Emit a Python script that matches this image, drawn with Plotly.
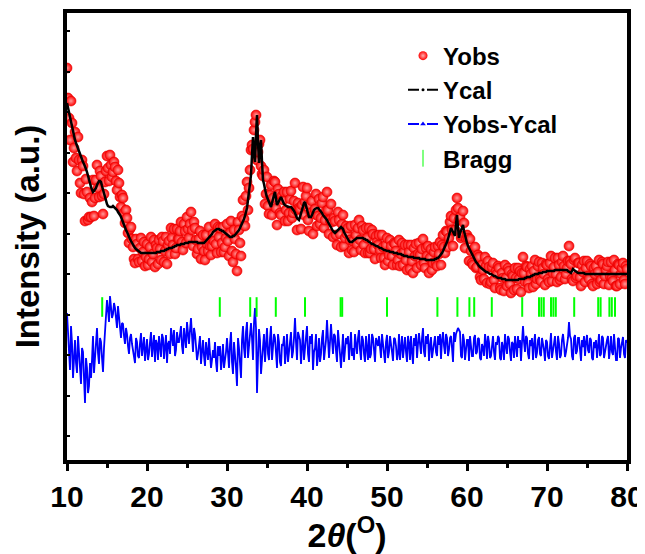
import numpy as np
import plotly.graph_objects as go

# 2-theta scan grid (degrees), 0.125 deg step
two_theta_start = 10.0
two_theta_step = 0.125
n_points = 561
two_theta = np.round(two_theta_start + two_theta_step * np.arange(n_points), 3)

# calculated profile (a.u.), one row per degree (10..79) + last point at 80
ycal = [
    357, 352, 347, 342, 337, 332, 328, 324,
    320, 317, 314, 311, 308, 305, 303, 300,
    298, 296, 294, 291, 288, 285, 281, 277,
    273, 270, 268, 269, 270, 272, 275, 277,
    279, 279, 278, 274, 270, 266, 262, 259,
    256, 254, 253, 253, 253, 253, 254, 253,
    253, 251, 250, 248, 247, 245, 243, 240,
    238, 235, 233, 230, 228, 225, 223, 221,
    219, 217, 215, 213, 212, 211, 210, 209,
    208, 207, 207, 207, 207, 207, 207, 207,
    207, 207, 207, 207, 207, 207, 207, 207,
    207, 207, 208, 208, 208, 208, 209, 209,
    209, 209, 210, 210, 211, 211, 212, 212,
    212, 212, 213, 213, 214, 214, 215, 215,
    215, 215, 216, 216, 216, 216, 217, 217,
    217, 217, 218, 218, 218, 218, 218, 218,
    218, 218, 218, 217, 217, 217, 217, 217,
    217, 217, 218, 219, 220, 221, 223, 224,
    225, 226, 228, 229, 230, 230, 231, 231,
    231, 230, 230, 229, 229, 228, 227, 226,
    226, 225, 224, 223, 223, 223, 224, 224,
    225, 226, 227, 228, 230, 232, 234, 236,
    238, 241, 244, 248, 252, 260, 270, 278,
    285, 305, 323, 305, 298, 325, 345, 318,
    297, 312, 320, 298, 280, 276, 270, 266,
    263, 260, 258, 255, 253, 257, 262, 265,
    268, 262, 255, 257, 260, 261, 263, 260,
    258, 256, 255, 254, 254, 253, 253, 253,
    253, 252, 251, 249, 247, 244, 242, 241,
    240, 243, 247, 251, 255, 257, 258, 254,
    250, 246, 243, 243, 243, 245, 248, 250,
    251, 252, 252, 252, 251, 250, 248, 247,
    245, 244, 242, 241, 240, 238, 236, 234,
    232, 230, 229, 228, 227, 228, 229, 230,
    232, 232, 233, 232, 231, 228, 226, 224,
    222, 220, 219, 218, 218, 218, 219, 220,
    221, 221, 222, 222, 222, 222, 222, 222,
    222, 221, 221, 220, 220, 219, 218, 217,
    217, 216, 216, 215, 215, 214, 214, 213,
    213, 212, 212, 211, 211, 210, 210, 209,
    209, 209, 209, 208, 208, 208, 208, 207,
    207, 207, 207, 206, 206, 206, 206, 205,
    205, 204, 204, 204, 204, 203, 203, 203,
    203, 203, 203, 202, 202, 202, 202, 202,
    202, 201, 201, 201, 201, 201, 201, 200,
    200, 200, 200, 200, 200, 200, 200, 200,
    201, 201, 202, 202, 203, 204, 206, 207,
    209, 211, 213, 215, 218, 221, 224, 228,
    232, 230, 228, 226, 224, 236, 245, 232,
    222, 227, 230, 234, 235, 229, 224, 220,
    217, 214, 212, 209, 207, 205, 203, 201,
    200, 198, 197, 195, 194, 193, 192, 191,
    190, 189, 189, 188, 188, 187, 187, 186,
    186, 185, 185, 184, 184, 183, 183, 182,
    182, 182, 182, 181, 181, 181, 181, 180,
    180, 180, 180, 180, 180, 180, 180, 180,
    180, 180, 180, 180, 181, 181, 181, 181,
    181, 181, 182, 182, 183, 183, 183, 183,
    184, 184, 185, 185, 186, 186, 186, 186,
    187, 187, 187, 187, 188, 188, 188, 188,
    189, 189, 189, 189, 189, 189, 189, 189,
    190, 190, 190, 190, 190, 190, 190, 190,
    190, 190, 190, 190, 190, 189, 188, 187,
    187, 189, 191, 190, 189, 188, 187, 187,
    187, 187, 187, 187, 187, 187, 186, 186,
    186, 186, 186, 186, 186, 186, 186, 186,
    186, 186, 186, 186, 186, 186, 186, 186,
    186, 186, 186, 186, 186, 186, 186, 186,
    186, 186, 186, 186, 186, 186, 186, 186,
    186, 186, 186, 186, 186, 186, 186, 186,
    186,
]

# observed profile (a.u.), same grid
yobs = [
    392, 362, 342, 320, 359, 337, 298, 312,
    328, 302, 289, 323, 300, 277, 267, 300,
    294, 266, 239, 281, 268, 240, 243, 262,
    243, 258, 280, 244, 262, 280, 295, 272,
    263, 289, 284, 264, 246, 266, 278, 289,
    304, 292, 279, 305, 295, 283, 288, 298,
    293, 279, 270, 290, 277, 263, 253, 265,
    262, 247, 237, 250, 242, 227, 217, 231,
    233, 221, 213, 201, 197, 221, 216, 201,
    198, 212, 222, 199, 208, 218, 194, 203,
    216, 195, 201, 213, 223, 198, 206, 220,
    193, 215, 212, 196, 220, 211, 200, 223,
    219, 198, 209, 223, 196, 215, 219, 206,
    232, 222, 215, 231, 206, 212, 231, 221,
    221, 229, 238, 218, 210, 236, 229, 217,
    243, 231, 222, 236, 248, 230, 214, 238,
    232, 220, 206, 211, 221, 229, 201, 213,
    225, 209, 200, 225, 216, 209, 233, 214,
    205, 214, 226, 219, 236, 216, 207, 233,
    223, 232, 208, 217, 233, 208, 213, 222,
    236, 219, 204, 227, 239, 209, 198, 230,
    221, 206, 189, 238, 230, 217, 204, 244,
    260, 241, 234, 264, 278, 250, 272, 290,
    310, 315, 311, 330, 338, 345, 300, 308,
    316, 320, 294, 286, 284, 290, 256, 266,
    283, 254, 246, 265, 275, 245, 262, 279,
    278, 252, 235, 271, 266, 247, 245, 264,
    260, 268, 239, 250, 268, 239, 247, 261,
    269, 242, 247, 259, 277, 250, 230, 257,
    252, 251, 231, 255, 273, 245, 258, 264,
    272, 240, 229, 255, 247, 259, 226, 246,
    251, 266, 234, 244, 261, 236, 242, 257,
    263, 232, 240, 249, 268, 250, 226, 240,
    256, 238, 223, 242, 239, 225, 215, 248,
    240, 226, 213, 236, 245, 214, 222, 234,
    226, 232, 207, 220, 234, 210, 219, 208,
    235, 225, 216, 232, 240, 220, 210, 234,
    230, 215, 207, 232, 222, 207, 232, 207,
    211, 230, 226, 211, 201, 224, 218, 215,
    225, 210, 202, 225, 213, 202, 195, 215,
    222, 199, 205, 220, 214, 204, 195, 217,
    216, 209, 195, 200, 220, 194, 206, 217,
    195, 208, 215, 200, 190, 215, 208, 191,
    215, 199, 187, 212, 204, 216, 192, 206,
    217, 205, 195, 211, 221, 197, 192, 212,
    204, 214, 187, 202, 211, 190, 197, 208,
    213, 197, 194, 214, 206, 218, 195, 215,
    225, 213, 207, 229, 228, 213, 222, 238,
    244, 230, 214, 242, 230, 250, 262, 252,
    240, 243, 222, 224, 249, 237, 212, 222,
    225, 222, 199, 221, 209, 197, 195, 211,
    213, 192, 193, 205, 203, 183, 180, 195,
    190, 181, 203, 194, 177, 199, 193, 176,
    178, 193, 197, 180, 172, 189, 186, 194,
    192, 172, 170, 187, 182, 169, 195, 182,
    174, 192, 189, 176, 167, 186, 184, 170,
    192, 182, 171, 192, 181, 189, 168, 187,
    203, 187, 178, 194, 193, 177, 172, 191,
    186, 194, 173, 189, 200, 176, 181, 194,
    198, 181, 179, 197, 192, 186, 175, 196,
    195, 181, 178, 197, 204, 179, 187, 193,
    202, 186, 178, 202, 195, 180, 183, 198,
    204, 194, 181, 186, 192, 199, 214, 199,
    196, 181, 179, 200, 202, 182, 184, 197,
    197, 183, 174, 195, 188, 199, 178, 192,
    199, 184, 181, 196, 194, 176, 174, 192,
    186, 194, 176, 188, 200, 178, 180, 198,
    196, 176, 184, 190, 194, 198, 175, 184,
    198, 182, 179, 200, 190, 174, 174, 196,
    195, 176, 186, 192, 197, 180, 176, 194,
    191,
]

# Bragg reflection positions (deg)
bragg_pos = [14.4, 29.1, 32.9, 33.7, 36.1, 39.75, 44.2, 44.4, 50.0, 56.3, 58.8,
             60.3, 60.9, 63.1, 66.9, 69.0, 69.3, 69.6, 70.5, 70.8, 71.1, 73.4,
             76.4, 76.7, 77.8, 78.1, 78.5]
bragg_level = 153
diff_offset = 112

x_ticks = [10, 20, 30, 40, 50, 60, 70, 80]

yobs_a = np.array(yobs, dtype=float)
ycal_a = np.array(ycal, dtype=float)
ydiff = yobs_a - ycal_a + diff_offset

FONT = "Liberation Sans, Arial, sans-serif"
TICKFONT = "Liberation Sans Narrow, Arial Narrow, Liberation Sans, sans-serif"

fig = go.Figure()

fig.add_trace(go.Scatter(
    x=two_theta, y=yobs_a, mode="markers", name="Yobs", showlegend=False,
    marker=dict(size=10, color="#ff0000",
                gradient=dict(type="radial", color="#ff9a9a"),
                line=dict(width=0.6, color="#e00000")),
))
fig.add_trace(go.Scatter(
    x=two_theta, y=ycal_a, mode="lines", name="Ycal", showlegend=False,
    line=dict(color="black", width=2.5),
))
fig.add_trace(go.Scatter(
    x=two_theta, y=ydiff, mode="lines", name="Yobs-Ycal", showlegend=False,
    line=dict(color="#0000ff", width=1.8),
))
fig.add_trace(go.Scatter(
    x=bragg_pos, y=[bragg_level] * len(bragg_pos), mode="markers", name="Bragg",
    showlegend=False,
    marker=dict(symbol="line-ns", size=14, line=dict(width=2, color="#00ff00")),
))

# legend entries
fig.add_trace(go.Scatter(
    x=[None], y=[None], mode="markers", name="Yobs",
    marker=dict(size=9, color="#ff0000", gradient=dict(type="radial", color="#ffb0b0")),
))
fig.add_trace(go.Scatter(
    x=[None], y=[None], mode="lines+markers", name="Ycal",
    line=dict(color="black", width=2, dash="11px,8px"),
    marker=dict(size=3, color="black"),
))
fig.add_trace(go.Scatter(
    x=[None], y=[None], mode="lines+markers", name="Yobs-Ycal",
    line=dict(color="#0000ff", width=2, dash="11px,8px"),
    marker=dict(size=5, color="#0000ff", symbol="triangle-up"),
))
fig.add_trace(go.Scatter(
    x=[None], y=[None], mode="markers", name="Bragg",
    marker=dict(symbol="line-ns", size=12, line=dict(width=1, color="#00ff00")),
))

fig.update_layout(
    width=637, height=546,
    margin=dict(l=59, r=18, t=5, b=94),
    paper_bgcolor="white", plot_bgcolor="white",
    font=dict(family=FONT, color="black"),
    legend=dict(
        x=0.6, y=0.954, xanchor="left", yanchor="top",
        bgcolor="rgba(0,0,0,0)",
        font=dict(family=FONT, size=24, color="black", weight=700),
    ),
    xaxis=dict(
        range=[10, 80], tickvals=x_ticks, automargin=False,
        ticks="outside", ticklen=7, tickwidth=3, tickcolor="black",
        minor=dict(dtick=5, ticks="outside", ticklen=4, tickwidth=3, tickcolor="black"),
        showline=True, linewidth=4, linecolor="black", mirror=True,
        showgrid=False, zeroline=False,
        tickfont=dict(family=TICKFONT, size=30, weight=700),
        title=dict(text="2<i>θ</i>(<sup>O</sup>)",
                   font=dict(family=FONT, size=34, weight=700), standoff=6),
    ),
    yaxis=dict(
        range=[0, 447], tick0=24, dtick=40.5, automargin=False,
        ticks="inside", ticklen=3, tickwidth=2, tickcolor="black",
        showticklabels=False,
        showline=True, linewidth=4, linecolor="black", mirror=True,
        showgrid=False, zeroline=False,
        title=dict(text="Intensity (a.u.)",
                   font=dict(family=FONT, size=33, weight=700), standoff=14),
    ),
)

fig.write_html("out.html")
